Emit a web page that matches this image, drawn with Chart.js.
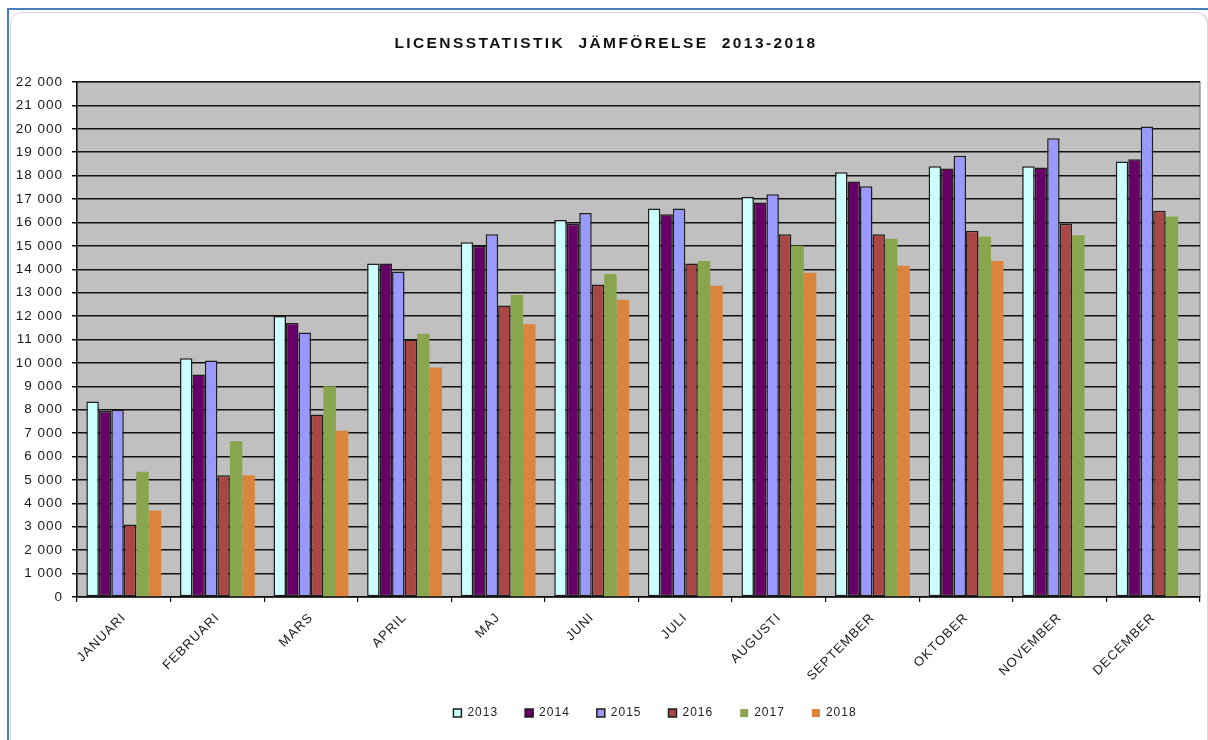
<!DOCTYPE html>
<html>
<head>
<meta charset="utf-8">
<script src="https://cdn.jsdelivr.net/npm/chart.js@4.4.1/dist/chart.umd.min.js"></script>
<style>
  html, body { margin: 0; padding: 0; background: #fff; width: 1208px; height: 740px; overflow: hidden; }
  #outer { position: absolute; left: 7px; top: 8px; width: 1201px; height: 732px;
           border-top: 2px solid #4a7ebb; border-left: 2px solid #4a7ebb; box-sizing: border-box; }
  #inner { position: absolute; left: 10px; top: 12px; width: 1196px; height: 760px;
           border: 1px solid #d8d8d8; border-radius: 12px; box-shadow: 1px 1px 2px #cfcfcf; background: #fff; }
  #c { position: absolute; left: 0; top: 0; }
</style>
</head>
<body>
<div id="outer"></div>
<div id="inner"></div>
<canvas id="c" width="1208" height="740"></canvas>
<script>
const titleText = 'LICENSSTATISTIK  JÄMFÖRELSE  2013-2018';
const months = ['JANUARI','FEBRUARI','MARS','APRIL','MAJ','JUNI','JULI','AUGUSTI','SEPTEMBER','OKTOBER','NOVEMBER','DECEMBER'];
const seriesNames = ['2013','2014','2015','2016','2017','2018'];
const v2013 = [8350, 10200, 12000, 14250, 15150, 16100, 16600, 17100, 18150, 18400, 18400, 18600];
const v2014 = [7950,  9500, 11700, 14250, 15000, 15950, 16350, 16850, 17750, 18300, 18350, 18700];
const v2015 = [8000, 10100, 11300, 13900, 15500, 16400, 16600, 17200, 17550, 18850, 19600, 20100];
const v2016 = [3100,  5200,  7800, 11000, 12450, 13350, 14250, 15500, 15500, 15650, 15950, 16500];
const v2017 = [5350,  6650,  9000, 11250, 12900, 13800, 14350, 15000, 15300, 15400, 15450, 16250];
const v2018 = [3700,  5200,  7100,  9800, 11650, 12700, 13300, 13850, 14150, 14350, null, null];
const yTicks = [0,1000,2000,3000,4000,5000,6000,7000,8000,9000,10000,11000,12000,13000,14000,15000,16000,17000,18000,19000,20000,21000,22000];

const fills = ['#ccffff','#660066','#9999ff','#aa4643','#89a54e','#db843d'];
const borders = ['#1e1e1e','#1e1e1e','#1e1e1e','#1e1e1e','#89a54e','#db843d'];
const bw = [1.5,1.5,1.5,1.5,0,0];
const allValues = [v2013, v2014, v2015, v2016, v2017, v2018];

const datasets = allValues.map((vals, i) => ({
  label: seriesNames[i],
  data: vals,
  backgroundColor: fills[i],
  borderColor: borders[i],
  borderWidth: bw[i],
  borderSkipped: false,
  categoryPercentage: 0.8,
  barPercentage: 1.0
}));

const fontFam = "'Liberation Sans', Arial, sans-serif";

const spacing = {
  id: 'spacing',
  beforeUpdate(chart) { chart.ctx.letterSpacing = '1px'; },
  beforeDraw(chart) { chart.ctx.letterSpacing = '1px'; }
};
const plotBg = {
  id: 'plotBg',
  beforeDraw(chart) {
    const a = chart.chartArea, ctx = chart.ctx;
    ctx.save();
    ctx.fillStyle = '#c0c0c0';
    ctx.fillRect(a.left, a.top, a.right - a.left, a.bottom - a.top);
    ctx.strokeStyle = '#808080';
    ctx.lineWidth = 1.2;
    ctx.strokeRect(a.left, a.top, a.right - a.left, a.bottom - a.top);
    ctx.restore();
  },
  afterDraw(chart) {
    const ctx = chart.ctx, t = chart.titleBlock;
    ctx.save();
    ctx.letterSpacing = '2.4px';
    ctx.font = "bold 15.5px " + fontFam;
    ctx.fillStyle = '#111';
    ctx.textAlign = 'center';
    ctx.textBaseline = 'middle';
    ctx.fillText(titleText, 606, t.top + 9);
    ctx.restore();
  }
};
const legendShift = {
  id: 'legendShift',
  afterLayout(chart) {
    if (chart.legend) { chart.legend.left += 50; chart.legend.right += 50; }
  }
};

new Chart(document.getElementById('c'), {
  type: 'bar',
  data: { labels: months, datasets },
  plugins: [spacing, plotBg, legendShift],
  options: {
    responsive: false,
    animation: false,
    devicePixelRatio: 1,
    layout: { padding: { left: 10, right: 8, top: 35, bottom: 11 } },
    plugins: {
      title: { display: true, text: titleText, color: 'rgba(0,0,0,0)',
               font: { family: fontFam, size: 15, weight: 'bold' },
               padding: { top: 0, bottom: 29 } },
      legend: { position: 'bottom',
                labels: { boxWidth: 8, boxHeight: 8, padding: 27, color: '#222',
                          font: { family: fontFam, size: 12 } } },
      tooltip: { enabled: false }
    },
    scales: {
      x: {
        offset: true,
        grid: { display: true, drawOnChartArea: false, color: '#111', lineWidth: 1.2, tickLength: 5, offset: true },
        border: { display: true, color: '#111', width: 1.5 },
        ticks: { color: '#222', maxRotation: 45, minRotation: 45, autoSkip: false, padding: 8,
                 font: { family: fontFam, size: 13 } },
        afterFit(scale) { scale.height = 83; }
      },
      y: {
        min: 0, max: 22000,
        afterBuildTicks(scale) { scale.ticks = yTicks.map(v => ({ value: v })); },
        grid: { color: '#111', lineWidth: 1.5, tickLength: 5 },
        border: { display: true, color: '#111', width: 1.5 },
        ticks: { color: '#1a1a1a', padding: 9,
                 font: { family: fontFam, size: 13.5 },
                 callback: (v) => String(v).replace(/\B(?=(\d{3})+(?!\d))/g, ' ') },
        afterFit(scale) { scale.width = 67; }
      }
    }
  }
});
</script>
</body>
</html>
